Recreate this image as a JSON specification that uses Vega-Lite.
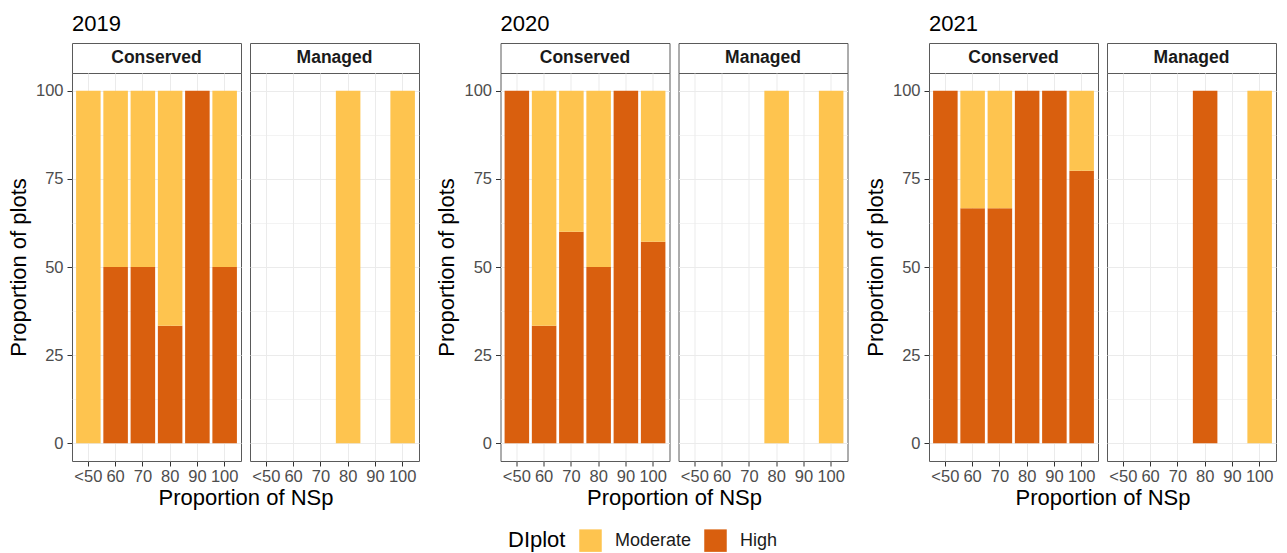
{
  "$schema": "https://vega.github.io/schema/vega-lite/v6.json",
  "background": "white",
  "padding": {"left": 6, "top": 12, "right": 4, "bottom": 4},
  "datasets": {
    "bars": [
      {"Year": "2019", "Type": "Conserved", "NSp": "<50", "DIplot": "Moderate", "Percent": 100},
      {"Year": "2019", "Type": "Conserved", "NSp": "60", "DIplot": "High", "Percent": 50},
      {"Year": "2019", "Type": "Conserved", "NSp": "60", "DIplot": "Moderate", "Percent": 50},
      {"Year": "2019", "Type": "Conserved", "NSp": "70", "DIplot": "High", "Percent": 50},
      {"Year": "2019", "Type": "Conserved", "NSp": "70", "DIplot": "Moderate", "Percent": 50},
      {"Year": "2019", "Type": "Conserved", "NSp": "80", "DIplot": "High", "Percent": 33.33},
      {"Year": "2019", "Type": "Conserved", "NSp": "80", "DIplot": "Moderate", "Percent": 66.67},
      {"Year": "2019", "Type": "Conserved", "NSp": "90", "DIplot": "High", "Percent": 100},
      {"Year": "2019", "Type": "Conserved", "NSp": "100", "DIplot": "High", "Percent": 50},
      {"Year": "2019", "Type": "Conserved", "NSp": "100", "DIplot": "Moderate", "Percent": 50},
      {"Year": "2019", "Type": "Managed", "NSp": "80", "DIplot": "Moderate", "Percent": 100},
      {"Year": "2019", "Type": "Managed", "NSp": "100", "DIplot": "Moderate", "Percent": 100},
      {"Year": "2020", "Type": "Conserved", "NSp": "<50", "DIplot": "High", "Percent": 100},
      {"Year": "2020", "Type": "Conserved", "NSp": "60", "DIplot": "High", "Percent": 33.33},
      {"Year": "2020", "Type": "Conserved", "NSp": "60", "DIplot": "Moderate", "Percent": 66.67},
      {"Year": "2020", "Type": "Conserved", "NSp": "70", "DIplot": "High", "Percent": 60},
      {"Year": "2020", "Type": "Conserved", "NSp": "70", "DIplot": "Moderate", "Percent": 40},
      {"Year": "2020", "Type": "Conserved", "NSp": "80", "DIplot": "High", "Percent": 50},
      {"Year": "2020", "Type": "Conserved", "NSp": "80", "DIplot": "Moderate", "Percent": 50},
      {"Year": "2020", "Type": "Conserved", "NSp": "90", "DIplot": "High", "Percent": 100},
      {"Year": "2020", "Type": "Conserved", "NSp": "100", "DIplot": "High", "Percent": 57.14},
      {"Year": "2020", "Type": "Conserved", "NSp": "100", "DIplot": "Moderate", "Percent": 42.86},
      {"Year": "2020", "Type": "Managed", "NSp": "80", "DIplot": "Moderate", "Percent": 100},
      {"Year": "2020", "Type": "Managed", "NSp": "100", "DIplot": "Moderate", "Percent": 100},
      {"Year": "2021", "Type": "Conserved", "NSp": "<50", "DIplot": "High", "Percent": 100},
      {"Year": "2021", "Type": "Conserved", "NSp": "60", "DIplot": "High", "Percent": 66.67},
      {"Year": "2021", "Type": "Conserved", "NSp": "60", "DIplot": "Moderate", "Percent": 33.33},
      {"Year": "2021", "Type": "Conserved", "NSp": "70", "DIplot": "High", "Percent": 66.67},
      {"Year": "2021", "Type": "Conserved", "NSp": "70", "DIplot": "Moderate", "Percent": 33.33},
      {"Year": "2021", "Type": "Conserved", "NSp": "80", "DIplot": "High", "Percent": 100},
      {"Year": "2021", "Type": "Conserved", "NSp": "90", "DIplot": "High", "Percent": 100},
      {"Year": "2021", "Type": "Conserved", "NSp": "100", "DIplot": "High", "Percent": 77.27},
      {"Year": "2021", "Type": "Conserved", "NSp": "100", "DIplot": "Moderate", "Percent": 22.73},
      {"Year": "2021", "Type": "Managed", "NSp": "80", "DIplot": "High", "Percent": 100},
      {"Year": "2021", "Type": "Managed", "NSp": "100", "DIplot": "Moderate", "Percent": 100}
    ]
  },
  "config": {
    "font": "Liberation Sans",
    "view": {"stroke": "#5a5a5a", "strokeWidth": 1, "fill": "white"},
    "axis": {
      "domain": false,
      "gridColor": "#EBEBEB",
      "tickColor": "#333333",
      "tickSize": 5,
      "labelColor": "#4D4D4D",
      "labelFontSize": 16.5,
      "labelFont": "Liberation Sans",
      "titleFont": "Liberation Sans",
      "titleFontSize": 22,
      "titleFontWeight": "normal",
      "titleColor": "black"
    },
    "legend": {
      "titleFont": "Liberation Sans",
      "labelFont": "Liberation Sans",
      "titleFontSize": 22,
      "titleFontWeight": "normal",
      "titleColor": "black",
      "labelFontSize": 18,
      "labelColor": "#1A1A1A",
      "symbolType": "square",
      "symbolSize": 506,
      "symbolStrokeWidth": 0,
      "labelOffset": 13,
      "columnPadding": 12,
      "titlePadding": 13
    },
    "title": {"font": "Liberation Sans", "fontWeight": "normal", "color": "black", "fontSize": 22, "anchor": "start", "frame": "group", "offset": 7}
  },
  "spacing": 14.5,
  "hconcat": [
    {
      "title": "2019",
      "bounds": "flush",
      "columns": 2,
      "spacing": {"row": 0, "column": 9},
      "concat": [
        {"width": 169, "height": 30, "view": {"stroke": "#5a5a5a", "fill": "white"}, "data": {"values": [{"Type": "Conserved"}]}, "mark": {"type": "text", "fontWeight": "bold", "fontSize": 17.5, "color": "#1A1A1A"}, "encoding": {"text": {"field": "Type"}}},
        {"width": 169, "height": 30, "view": {"stroke": "#5a5a5a", "fill": "white"}, "data": {"values": [{"Type": "Managed"}]}, "mark": {"type": "text", "fontWeight": "bold", "fontSize": 17.5, "color": "#1A1A1A"}, "encoding": {"text": {"field": "Type"}}},
        {
          "width": 169, "height": 388,
          "data": {"name": "bars"},
          "transform": [{"filter": "datum.Year === '2019' && datum.Type === 'Conserved'"}],
          "mark": {"type": "bar"},
          "encoding": {
            "x": {"field": "NSp", "type": "nominal", "scale": {"domain": ["<50", "60", "70", "80", "90", "100"], "paddingInner": 0.1, "paddingOuter": 0.15}, "axis": {"title": "Proportion of NSp", "titleX": 173.5, "titleAlign": "center", "titlePadding": 3, "labelAngle": 0, "labelOverlap": false, "labelBound": false, "grid": true, "bandPosition": 0.5, "gridWidth": 1, "labelPadding": 2}},
            "y": {"field": "Percent", "type": "quantitative", "stack": "zero", "scale": {"domain": [-5, 105], "nice": false}, "axis": {"title": "Proportion of plots", "values": [0, 12.5, 25, 37.5, 50, 62.5, 75, 87.5, 100], "labelExpr": "datum.value % 25 === 0 ? datum.label : ''", "tickOpacity": {"condition": {"test": "datum.value % 25 !== 0", "value": 0}, "value": 1}, "gridWidth": {"condition": {"test": "datum.value % 25 !== 0", "value": 0.6}, "value": 1.1}, "labelPadding": 4, "titlePadding": 5}},
            "color": {"field": "DIplot", "type": "nominal", "scale": {"domain": ["Moderate", "High"], "range": ["#FEC44F", "#D95F0E"]}, "legend": {"title": "DIplot", "orient": "none", "legendX": 436, "legendY": 486, "direction": "horizontal", "titleOrient": "left"}},
            "order": {"field": "DIplot", "sort": "ascending"}
          }
        },
        {
          "width": 169, "height": 388,
          "data": {"name": "bars"},
          "transform": [{"filter": "datum.Year === '2019' && datum.Type === 'Managed'"}],
          "mark": {"type": "bar"},
          "encoding": {
            "x": {"field": "NSp", "type": "nominal", "scale": {"domain": ["<50", "60", "70", "80", "90", "100"], "paddingInner": 0.1, "paddingOuter": 0.15}, "axis": {"title": null, "labelAngle": 0, "labelOverlap": false, "labelBound": false, "grid": true, "bandPosition": 0.5, "gridWidth": 1, "labelPadding": 2}},
            "y": {"field": "Percent", "type": "quantitative", "stack": "zero", "scale": {"domain": [-5, 105], "nice": false}, "axis": {"title": null, "labels": false, "ticks": false, "values": [0, 12.5, 25, 37.5, 50, 62.5, 75, 87.5, 100], "gridWidth": {"condition": {"test": "datum.value % 25 !== 0", "value": 0.6}, "value": 1.1}}},
            "color": {"field": "DIplot", "type": "nominal", "scale": {"domain": ["Moderate", "High"], "range": ["#FEC44F", "#D95F0E"]}, "legend": {"title": "DIplot", "orient": "none", "legendX": 436, "legendY": 486, "direction": "horizontal", "titleOrient": "left"}},
            "order": {"field": "DIplot", "sort": "ascending"}
          }
        }
      ]
    },
    {
      "title": "2020",
      "bounds": "flush",
      "columns": 2,
      "spacing": {"row": 0, "column": 9},
      "concat": [
        {"width": 169, "height": 30, "view": {"stroke": "#5a5a5a", "fill": "white"}, "data": {"values": [{"Type": "Conserved"}]}, "mark": {"type": "text", "fontWeight": "bold", "fontSize": 17.5, "color": "#1A1A1A"}, "encoding": {"text": {"field": "Type"}}},
        {"width": 169, "height": 30, "view": {"stroke": "#5a5a5a", "fill": "white"}, "data": {"values": [{"Type": "Managed"}]}, "mark": {"type": "text", "fontWeight": "bold", "fontSize": 17.5, "color": "#1A1A1A"}, "encoding": {"text": {"field": "Type"}}},
        {
          "width": 169, "height": 388,
          "data": {"name": "bars"},
          "transform": [{"filter": "datum.Year === '2020' && datum.Type === 'Conserved'"}],
          "mark": {"type": "bar"},
          "encoding": {
            "x": {"field": "NSp", "type": "nominal", "scale": {"domain": ["<50", "60", "70", "80", "90", "100"], "paddingInner": 0.1, "paddingOuter": 0.15}, "axis": {"title": "Proportion of NSp", "titleX": 173.5, "titleAlign": "center", "titlePadding": 3, "labelAngle": 0, "labelOverlap": false, "labelBound": false, "grid": true, "bandPosition": 0.5, "gridWidth": 1, "labelPadding": 2}},
            "y": {"field": "Percent", "type": "quantitative", "stack": "zero", "scale": {"domain": [-5, 105], "nice": false}, "axis": {"title": "Proportion of plots", "values": [0, 12.5, 25, 37.5, 50, 62.5, 75, 87.5, 100], "labelExpr": "datum.value % 25 === 0 ? datum.label : ''", "tickOpacity": {"condition": {"test": "datum.value % 25 !== 0", "value": 0}, "value": 1}, "gridWidth": {"condition": {"test": "datum.value % 25 !== 0", "value": 0.6}, "value": 1.1}, "labelPadding": 4, "titlePadding": 5}},
            "color": {"field": "DIplot", "type": "nominal", "scale": {"domain": ["Moderate", "High"], "range": ["#FEC44F", "#D95F0E"]}, "legend": {"title": "DIplot", "orient": "none", "legendX": 436, "legendY": 486, "direction": "horizontal", "titleOrient": "left"}},
            "order": {"field": "DIplot", "sort": "ascending"}
          }
        },
        {
          "width": 169, "height": 388,
          "data": {"name": "bars"},
          "transform": [{"filter": "datum.Year === '2020' && datum.Type === 'Managed'"}],
          "mark": {"type": "bar"},
          "encoding": {
            "x": {"field": "NSp", "type": "nominal", "scale": {"domain": ["<50", "60", "70", "80", "90", "100"], "paddingInner": 0.1, "paddingOuter": 0.15}, "axis": {"title": null, "labelAngle": 0, "labelOverlap": false, "labelBound": false, "grid": true, "bandPosition": 0.5, "gridWidth": 1, "labelPadding": 2}},
            "y": {"field": "Percent", "type": "quantitative", "stack": "zero", "scale": {"domain": [-5, 105], "nice": false}, "axis": {"title": null, "labels": false, "ticks": false, "values": [0, 12.5, 25, 37.5, 50, 62.5, 75, 87.5, 100], "gridWidth": {"condition": {"test": "datum.value % 25 !== 0", "value": 0.6}, "value": 1.1}}},
            "color": {"field": "DIplot", "type": "nominal", "scale": {"domain": ["Moderate", "High"], "range": ["#FEC44F", "#D95F0E"]}, "legend": {"title": "DIplot", "orient": "none", "legendX": 436, "legendY": 486, "direction": "horizontal", "titleOrient": "left"}},
            "order": {"field": "DIplot", "sort": "ascending"}
          }
        }
      ]
    },
    {
      "title": "2021",
      "bounds": "flush",
      "columns": 2,
      "spacing": {"row": 0, "column": 9},
      "concat": [
        {"width": 169, "height": 30, "view": {"stroke": "#5a5a5a", "fill": "white"}, "data": {"values": [{"Type": "Conserved"}]}, "mark": {"type": "text", "fontWeight": "bold", "fontSize": 17.5, "color": "#1A1A1A"}, "encoding": {"text": {"field": "Type"}}},
        {"width": 169, "height": 30, "view": {"stroke": "#5a5a5a", "fill": "white"}, "data": {"values": [{"Type": "Managed"}]}, "mark": {"type": "text", "fontWeight": "bold", "fontSize": 17.5, "color": "#1A1A1A"}, "encoding": {"text": {"field": "Type"}}},
        {
          "width": 169, "height": 388,
          "data": {"name": "bars"},
          "transform": [{"filter": "datum.Year === '2021' && datum.Type === 'Conserved'"}],
          "mark": {"type": "bar"},
          "encoding": {
            "x": {"field": "NSp", "type": "nominal", "scale": {"domain": ["<50", "60", "70", "80", "90", "100"], "paddingInner": 0.1, "paddingOuter": 0.15}, "axis": {"title": "Proportion of NSp", "titleX": 173.5, "titleAlign": "center", "titlePadding": 3, "labelAngle": 0, "labelOverlap": false, "labelBound": false, "grid": true, "bandPosition": 0.5, "gridWidth": 1, "labelPadding": 2}},
            "y": {"field": "Percent", "type": "quantitative", "stack": "zero", "scale": {"domain": [-5, 105], "nice": false}, "axis": {"title": "Proportion of plots", "values": [0, 12.5, 25, 37.5, 50, 62.5, 75, 87.5, 100], "labelExpr": "datum.value % 25 === 0 ? datum.label : ''", "tickOpacity": {"condition": {"test": "datum.value % 25 !== 0", "value": 0}, "value": 1}, "gridWidth": {"condition": {"test": "datum.value % 25 !== 0", "value": 0.6}, "value": 1.1}, "labelPadding": 4, "titlePadding": 5}},
            "color": {"field": "DIplot", "type": "nominal", "scale": {"domain": ["Moderate", "High"], "range": ["#FEC44F", "#D95F0E"]}, "legend": {"title": "DIplot", "orient": "none", "legendX": 436, "legendY": 486, "direction": "horizontal", "titleOrient": "left"}},
            "order": {"field": "DIplot", "sort": "ascending"}
          }
        },
        {
          "width": 169, "height": 388,
          "data": {"name": "bars"},
          "transform": [{"filter": "datum.Year === '2021' && datum.Type === 'Managed'"}],
          "mark": {"type": "bar"},
          "encoding": {
            "x": {"field": "NSp", "type": "nominal", "scale": {"domain": ["<50", "60", "70", "80", "90", "100"], "paddingInner": 0.1, "paddingOuter": 0.15}, "axis": {"title": null, "labelAngle": 0, "labelOverlap": false, "labelBound": false, "grid": true, "bandPosition": 0.5, "gridWidth": 1, "labelPadding": 2}},
            "y": {"field": "Percent", "type": "quantitative", "stack": "zero", "scale": {"domain": [-5, 105], "nice": false}, "axis": {"title": null, "labels": false, "ticks": false, "values": [0, 12.5, 25, 37.5, 50, 62.5, 75, 87.5, 100], "gridWidth": {"condition": {"test": "datum.value % 25 !== 0", "value": 0.6}, "value": 1.1}}},
            "color": {"field": "DIplot", "type": "nominal", "scale": {"domain": ["Moderate", "High"], "range": ["#FEC44F", "#D95F0E"]}, "legend": {"title": "DIplot", "orient": "none", "legendX": 436, "legendY": 486, "direction": "horizontal", "titleOrient": "left"}},
            "order": {"field": "DIplot", "sort": "ascending"}
          }
        }
      ]
    }
  ]
}
